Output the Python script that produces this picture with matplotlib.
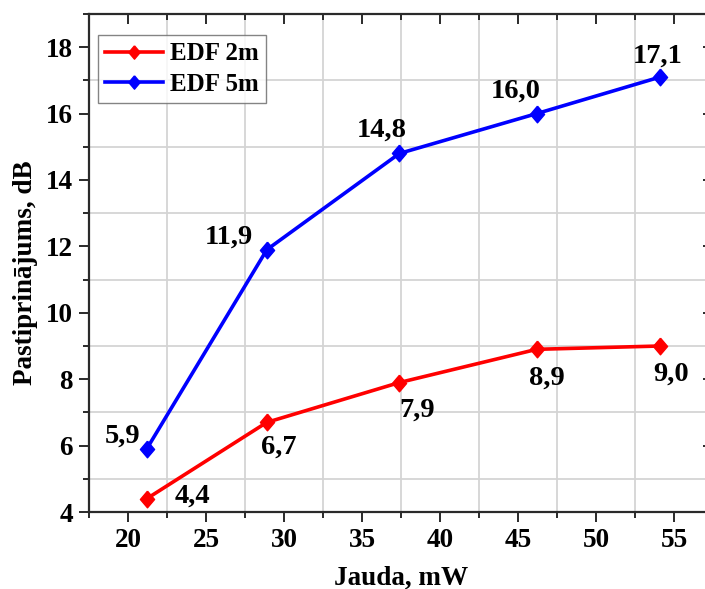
import matplotlib
matplotlib.use("Agg")
import matplotlib.pyplot as plt
from matplotlib.ticker import MultipleLocator

# data
power_mw = [21.2, 28.9, 37.4, 46.2, 54.1]
gain_2m = [4.4, 6.7, 7.9, 8.9, 9.0]
gain_5m = [5.9, 11.9, 14.8, 16.0, 17.1]
labels_2m = ["4,4", "6,7", "7,9", "8,9", "9,0"]
labels_5m = ["5,9", "11,9", "14,8", "16,0", "17,1"]

# label offsets in pixels (dx, dy up) from each point
offs_2m = [(46, -4), (12, -31), (18, -34), (10, -35), (11, -35)]
offs_5m = [(-24, 6), (-38, 6), (-18, 17), (-21, 16), (-2, 14)]

plt.rcParams['font.family'] = ['Liberation Serif', 'DejaVu Serif']
plt.rcParams['font.weight'] = 'bold'
plt.rcParams['axes.labelweight'] = 'bold'

# slightly tall diamond, like the Origin marker
diamond = [(0, 1), (0.85, 0), (0, -1), (-0.85, 0), (0, 1)]

fig = plt.figure(figsize=(7.05, 5.89), dpi=100)
ax = fig.add_axes([89 / 705, 77 / 589, 624 / 705, 498 / 589])

ax.plot(power_mw, gain_2m, color='#ff0000', lw=2.6, marker=diamond, ms=12, label='EDF 2m')
ax.plot(power_mw, gain_5m, color='#0000ff', lw=2.6, marker=diamond, ms=12, label='EDF 5m')

for x, y, s, (dx, dy) in zip(power_mw, gain_2m, labels_2m, offs_2m):
    ax.annotate(s, (x, y), xytext=(dx, dy), textcoords='offset pixels',
                ha='center', va='baseline', fontsize=20.5, fontweight='bold')
for x, y, s, (dx, dy) in zip(power_mw, gain_5m, labels_5m, offs_5m):
    ax.annotate(s, (x, y), xytext=(dx, dy), textcoords='offset pixels',
                ha='center', va='baseline', fontsize=20.5, fontweight='bold')

ax.set_xlim(17.5, 57.5)
ax.set_ylim(4, 19)
ax.xaxis.set_major_locator(MultipleLocator(5))
ax.xaxis.set_minor_locator(MultipleLocator(2.5))
ax.yaxis.set_major_locator(MultipleLocator(2))
ax.yaxis.set_minor_locator(MultipleLocator(1))
ax.grid(which='minor', color='#d4d4d4', lw=1.3)
ax.grid(which='major', visible=False)
ax.set_axisbelow(True)

for sp in ax.spines.values():
    sp.set_linewidth(1.6)
    sp.set_color('#2a2a2a')

ax.tick_params(which='both', top=True, right=True, labelsize=19.5, width=1.4, color='#2a2a2a')
ax.tick_params(which='major', length=7.5, pad=4)
ax.tick_params(which='minor', length=4)
for t in ax.xaxis.get_major_ticks() + ax.xaxis.get_minor_ticks():
    t.tick2line.set_marker(3)  # top ticks pointing inward
for t in ax.yaxis.get_major_ticks() + ax.yaxis.get_minor_ticks():
    t.tick2line.set_marker(0)  # right ticks pointing inward

ax.set_xlabel('Jauda, mW', fontsize=19.5, labelpad=9)
ax.set_ylabel('Pastiprinājums, dB', fontsize=19.5, labelpad=6)
ax.yaxis.label.set_y(0.48)

leg = ax.legend(loc='upper left', bbox_to_anchor=(0.014, 0.958), fontsize=18,
                frameon=True, fancybox=False, handlelength=2.3, borderpad=0.3,
                labelspacing=0.3, handletextpad=0.3, borderaxespad=0, markerscale=0.8)
leg.get_frame().set_edgecolor('#666666')
leg.get_frame().set_linewidth(1.0)
for txt in leg.get_texts():
    txt.set_fontweight('bold')

fig.savefig('out.png', dpi=100)
